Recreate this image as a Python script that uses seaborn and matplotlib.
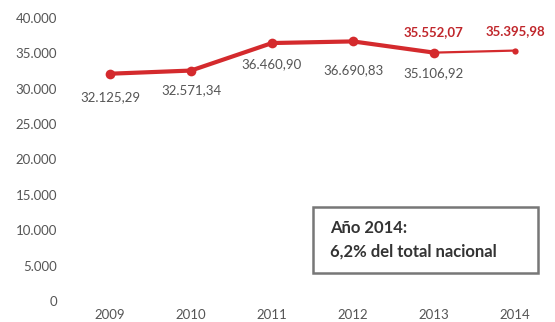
import seaborn as sns
import matplotlib.pyplot as plt
import pandas as pd
from matplotlib.patches import Rectangle

# Valores por año (serie principal y tramo final)
years = [2009, 2010, 2011, 2012, 2013]
values = [32125.29, 32571.34, 36460.90, 36690.83, 35106.92]
labels = ["32.125,29", "32.571,34", "36.460,90", "36.690,83", "35.106,92"]

tail_years = [2013, 2014]
tail_values = [35106.92, 35395.98]
red_years = [2013, 2014]
red_values = [35106.92, 35395.98]
red_labels = ["35.552,07", "35.395,98"]

yticks = [0, 5000, 10000, 15000, 20000, 25000, 30000, 35000, 40000]
ytick_labels = ["0", "5.000", "10.000", "15.000", "20.000", "25.000", "30.000", "35.000", "40.000"]
xtick_labels = ["2009", "2010", "2011", "2012", "2013", "2014"]

sns.set_style("white")
plt.rcParams['font.family'] = ['Lato', 'DejaVu Sans']

red = "#d42a2d"
gray = "#555555"

fig = plt.figure(figsize=(5.55, 3.22), dpi=100)
ax = fig.add_axes([69.5 / 555, 21 / 322, 486 / 555, 283 / 322])

main = pd.DataFrame({"year": years, "value": values})
tail = pd.DataFrame({"year": tail_years, "value": tail_values})

sns.lineplot(data=tail, x="year", y="value", ax=ax, color=red, linewidth=1.6,
             marker="o", markersize=4.5, markeredgewidth=0)
sns.lineplot(data=main, x="year", y="value", ax=ax, color=red, linewidth=3,
             marker="o", markersize=7, markeredgewidth=0)

# etiquetas grises bajo los puntos (desplazamiento en px)
below_px = [23, 20, 21, 29, 21]
for x, y, t, d in zip(years, values, labels, below_px):
    ax.annotate(t, (x, y), xytext=(0, -d * 0.72), textcoords="offset points",
                ha="center", va="center", fontsize=9.5, color=gray)

above_px = [21, 19]
for x, y, t, d in zip(red_years, red_values, red_labels, above_px):
    ax.annotate(t, (x, y), xytext=(0, d * 0.72), textcoords="offset points",
                ha="center", va="center", fontsize=9.5, color="#c0262b",
                fontweight="bold")

ax.set_xlim(2008.5, 2014.5)
ax.set_ylim(0, 40000)
ax.set_yticks(yticks)
ax.set_yticklabels(ytick_labels, fontsize=9.5, color=gray)
ax.set_xticks(list(range(2009, 2015)))
ax.set_xticklabels(xtick_labels, fontsize=9.5, color=gray)
ax.tick_params(axis="y", length=0, pad=9)
ax.tick_params(axis="x", length=0, pad=6)
ax.set_xlabel("")
ax.set_ylabel("")
sns.despine(ax=ax, left=True, bottom=True)

# recuadro con la nota
W, H = 555, 322
fig.patches.append(Rectangle((313 / W, 1 - 273 / H), 225 / W, 66 / H,
                             transform=fig.transFigure, facecolor="white",
                             edgecolor="#777777", linewidth=1.8))
fig.text(330 / W, 1 - 228 / H, "Año 2014:", fontsize=12, fontweight="bold",
         color="#333333", va="center", ha="left")
fig.text(330 / W, 1 - 252 / H, "6,2% del total nacional", fontsize=12,
         fontweight="bold", color="#333333", va="center", ha="left")

fig.savefig("out.png", dpi=100)
